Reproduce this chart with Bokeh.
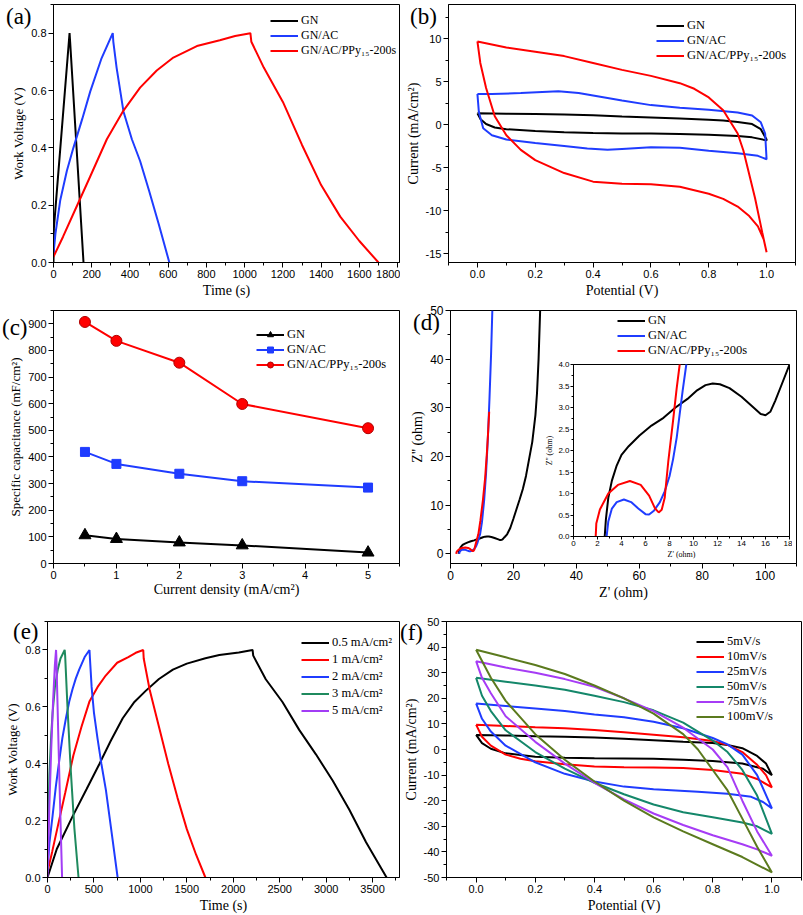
import numpy as np
from bokeh.plotting import figure
from bokeh.layouts import row, column
from bokeh.models import Legend, LegendItem, FixedTicker, Range1d, NumeralTickFormatter, Div
from bokeh.embed import file_html
from bokeh.resources import INLINE

SANS = "Liberation Sans"
SERIF = "Liberation Serif"

# ---------------- (a) GCD of three electrodes ----------------
a_gn_t = [0, 2, 84, 87, 157]
a_gn_v = [0, 0.12, 0.80, 0.77, 0]
a_ac_t = [0, 10, 35, 70, 104, 150, 192, 250, 310, 313, 330, 366, 410, 453, 500, 550, 606]
a_ac_v = [0.03, 0.10, 0.216, 0.32, 0.40, 0.50, 0.596, 0.71, 0.80, 0.77, 0.68, 0.527, 0.43, 0.354, 0.25, 0.135, 0]
a_ppy_t = [0, 50, 104, 192, 279, 366, 453, 540, 627, 750, 870, 950, 1030, 1035, 1100, 1200, 1300, 1400, 1500, 1600, 1700]
a_ppy_v = [0.02, 0.09, 0.17, 0.30, 0.43, 0.53, 0.61, 0.67, 0.715, 0.755, 0.775, 0.79, 0.80, 0.77, 0.68, 0.56, 0.41, 0.27, 0.16, 0.075, 0]

# ---------------- (b) CV of three electrodes ----------------
b_gn_x = [0, 0.1, 0.2, 0.3, 0.4, 0.5, 0.6, 0.7, 0.8, 0.85, 0.9, 0.95, 0.98, 1.0, 1.0, 0.95, 0.9, 0.8, 0.7, 0.6, 0.5, 0.4, 0.3, 0.2, 0.1, 0.06, 0.03, 0.01, 0]
b_gn_y = [1.35, 1.3, 1.28, 1.22, 1.12, 0.97, 0.86, 0.73, 0.6, 0.5, 0.35, 0.1, -0.5, -1.7, -1.8, -1.45, -1.3, -1.15, -1.05, -1.0, -1.0, -0.95, -0.85, -0.7, -0.5, -0.3, 0.1, 0.7, 1.35]
b_ac_x = [0, 0.05, 0.15, 0.28, 0.35, 0.42, 0.5, 0.6, 0.7, 0.8, 0.9, 0.95, 0.98, 0.995, 1.0,
          0.97, 0.9, 0.8, 0.7, 0.6, 0.5, 0.45, 0.38, 0.3, 0.2, 0.1, 0.05, 0.02, 0.005, 0]
b_ac_y = [3.6, 3.6, 3.7, 3.9, 3.7, 3.3, 2.85, 2.3, 2.0, 1.75, 1.45, 1.1, 0.3, -1.0, -4.0,
          -3.6, -3.3, -3.0, -2.65, -2.6, -2.8, -2.9, -2.75, -2.45, -2.1, -1.7, -1.2, -0.4, 1.5, 3.6]
b_ppy_x = [0, 0.1, 0.2, 0.3, 0.4, 0.5, 0.6, 0.7, 0.75, 0.8, 0.85, 0.9, 0.92, 0.96, 0.985, 1.0,
           0.99, 0.97, 0.94, 0.9, 0.85, 0.8, 0.7, 0.6, 0.5, 0.4, 0.3, 0.2, 0.15, 0.1, 0.06, 0.03, 0.01, 0]
b_ppy_y = [9.7, 9.0, 8.5, 8.0, 7.2, 6.4, 5.7, 4.85, 4.2, 3.2, 1.7, -1.0, -3.0, -8.5, -12.5, -14.8,
           -13.3, -11.8, -10.6, -9.5, -8.6, -8.0, -7.2, -6.9, -6.85, -6.6, -5.6, -4.1, -2.9, -1.2, 1.0, 4.3, 7.2, 9.7]

# ---------------- (c) specific capacitance ----------------
c_j = [0.5, 1, 2, 3, 5]
c_gn = [106, 92, 79, 68, 41]
c_ac = [419, 374, 337, 309, 285]
c_ppy = [907, 836, 754, 599, 508]

# ---------------- (d) Nyquist ----------------
d_gn_x = [2.6, 2.7, 2.9, 3.2, 3.6, 4.0, 4.6, 5.5, 6.5, 7.5, 8.5, 9.5, 10.3, 11.0, 11.6, 12.2, 13.0, 14.0, 15.0, 15.6,
          16.0, 16.4, 16.8, 17.3, 18.0, 19.0, 20.0, 21.0, 22.0, 23.0, 24.0, 25.0, 26.0, 27.0, 27.5, 28.0, 28.5]
d_gn_y = [0, 0.4, 0.9, 1.3, 1.65, 1.9, 2.1, 2.35, 2.58, 2.76, 3.0, 3.2, 3.4, 3.52, 3.56, 3.54, 3.45, 3.25, 3.0, 2.85,
          2.82, 2.9, 3.15, 3.5, 4.0, 5.3, 7.2, 9.2, 11.2, 13.3, 16.0, 19.5, 23.0, 28.5, 33.0, 40.0, 50.0]
d_ac_x = [2.76, 2.9, 3.2, 3.6, 4.2, 4.8, 5.4, 6.0, 6.3, 6.7, 7.2, 7.6, 8.0, 8.3, 8.6, 8.85, 9.1, 9.4,
          10.0, 10.7, 11.3, 11.9, 12.4, 12.9, 13.3]
d_ac_y = [0, 0.35, 0.65, 0.8, 0.86, 0.8, 0.65, 0.52, 0.51, 0.6, 0.8, 1.05, 1.4, 1.8, 2.3, 2.85, 3.4, 4.0,
          6.5, 11.0, 16.5, 24.0, 32.0, 41.0, 50.0]
d_ppy_x = [1.85, 1.9, 2.2, 2.9, 3.7, 4.7, 5.6, 6.3, 6.8, 7.1, 7.35, 7.6, 7.9, 8.3, 8.6, 8.85,
           9.5, 10.3, 11.0, 11.6, 12.0, 12.3]
d_ppy_y = [0, 0.3, 0.63, 1.0, 1.2, 1.29, 1.2, 0.95, 0.65, 0.56, 0.62, 0.9, 1.75, 2.7, 3.45, 4.0,
           6.8, 11.0, 15.5, 21.0, 25.5, 29.2]

# ---------------- (e) GCD at current densities ----------------
e_05_t = [0, 100, 270, 420, 560, 680, 810, 930, 1060, 1200, 1350, 1500, 1700, 1850, 2060, 2208, 2215,
          2350, 2530, 2710, 2890, 3070, 3250, 3430, 3651]
e_05_v = [0, 0.1, 0.215, 0.31, 0.40, 0.48, 0.56, 0.615, 0.657, 0.698, 0.731, 0.752, 0.771, 0.782, 0.791, 0.80, 0.78,
          0.697, 0.617, 0.519, 0.433, 0.341, 0.238, 0.124, 0]
e_1_t = [0, 50, 104, 192, 279, 366, 453, 540, 627, 750, 870, 950, 1031, 1036, 1100, 1200, 1300, 1400, 1500, 1600, 1700]
e_1_v = [0.02, 0.09, 0.17, 0.30, 0.43, 0.53, 0.62, 0.67, 0.71, 0.755, 0.775, 0.79, 0.80, 0.77, 0.66, 0.53, 0.40, 0.28, 0.17, 0.08, 0]
e_2_t = [0, 20, 54, 90, 126, 160, 198, 235, 269, 305, 341, 400, 452, 457, 475, 500, 538, 580, 629, 700, 755]
e_2_v = [0.02, 0.12, 0.215, 0.32, 0.41, 0.49, 0.559, 0.62, 0.662, 0.70, 0.731, 0.775, 0.80, 0.77, 0.67, 0.58, 0.49, 0.40, 0.307, 0.135, 0]
e_3_t = [0, 10, 20, 40, 55, 80, 110, 140, 185, 190, 215, 250, 290, 334]
e_3_v = [0.02, 0.2, 0.36, 0.5, 0.58, 0.67, 0.73, 0.77, 0.80, 0.78, 0.6, 0.38, 0.17, 0]
e_5_t = [0, 20, 40, 60, 80, 92, 95, 120, 140, 157]
e_5_v = [0, 0.25, 0.45, 0.62, 0.75, 0.80, 0.78, 0.45, 0.2, 0]

# ---------------- (f) CV at scan rates ----------------
f_5_x = [0, 0.1, 0.2, 0.3, 0.4, 0.5, 0.6, 0.7, 0.8, 0.85, 0.9, 0.95, 0.98, 1.0,
         0.97, 0.9, 0.8, 0.7, 0.6, 0.5, 0.4, 0.3, 0.2, 0.1, 0.05, 0.02, 0]
f_5_y = [5.7, 5.5, 5.2, 5.0, 4.7, 4.2, 3.6, 3.0, 2.5, 1.8, 0.5, -2.5, -5.5, -10,
         -7.5, -5.5, -4.5, -4.0, -3.6, -3.5, -3.4, -3.2, -2.8, -1.5, 0.3, 2.5, 5.7]
f_10_x = [0, 0.1, 0.2, 0.3, 0.4, 0.5, 0.6, 0.7, 0.8, 0.85, 0.9, 0.95, 0.98, 1.0,
          0.95, 0.9, 0.8, 0.7, 0.6, 0.5, 0.4, 0.3, 0.2, 0.15, 0.1, 0.05, 0.02, 0]
f_10_y = [9.7, 9.2, 8.7, 8.3, 7.6, 6.7, 5.8, 4.8, 3.3, 1.8, -1, -6, -10, -14.8,
          -11.5, -9.5, -8, -7.2, -7, -6.9, -6.6, -5.8, -4.6, -3.6, -2, 1.5, 5, 9.7]
f_25_x = [0, 0.1, 0.2, 0.3, 0.4, 0.5, 0.6, 0.7, 0.8, 0.85, 0.9, 0.95, 1.0,
          0.97, 0.93, 0.85, 0.75, 0.6, 0.5, 0.4, 0.3, 0.2, 0.1, 0.05, 0.02, 0]
f_25_y = [18, 17, 16, 15, 13.7, 12.6, 10.8, 8.3, 4.5, 2, -2, -10, -23,
          -20.5, -18.5, -17.3, -16.5, -15.5, -14.5, -12.5, -9.5, -5, 1.5, 7, 12, 18]
f_50_x = [0, 0.1, 0.2, 0.3, 0.4, 0.5, 0.6, 0.7, 0.8, 0.85, 0.9, 0.95, 1.0,
          0.95, 0.9, 0.8, 0.7, 0.6, 0.5, 0.4, 0.3, 0.2, 0.1, 0.05, 0.02, 0]
f_50_y = [28, 26.5, 25, 23.3, 21, 18.5, 15.3, 10.5, 3.5, -1, -8, -18, -33,
          -30, -28.5, -26.5, -24.5, -21.5, -17.5, -13, -7.5, -1, 7.5, 15, 21, 28]
f_75_x = [0, 0.1, 0.2, 0.3, 0.4, 0.5, 0.6, 0.7, 0.8, 0.85, 0.9, 0.95, 1.0,
          0.95, 0.9, 0.8, 0.7, 0.6, 0.5, 0.4, 0.3, 0.2, 0.1, 0.05, 0.02, 0]
f_75_y = [34.5, 32, 30, 27.5, 24.5, 20, 15, 8.5, 0, -7, -20, -32, -41.5,
          -39, -37, -33.5, -29.5, -25, -19.5, -13, -5.5, 3, 13, 22, 28, 34.5]
f_100_x = [0, 0.1, 0.2, 0.3, 0.4, 0.5, 0.6, 0.7, 0.75, 0.8, 0.85, 0.9, 0.95, 1.0,
           0.9, 0.8, 0.7, 0.6, 0.5, 0.4, 0.3, 0.2, 0.1, 0.05, 0]
f_100_y = [39, 36, 33, 29.5, 25, 20, 14, 6, 0, -8, -16, -27, -38, -48,
           -42, -37, -32, -26.5, -20, -12.5, -4, 6, 19, 28, 39]

RED = "#ff0000"
BLUE = "#1f3cff"
BLACK = "#000000"


def make_fig(w, h, xr, yr, mb):
    p = figure(width=w, height=h, x_range=Range1d(*xr), y_range=Range1d(*yr),
               output_backend="svg", toolbar_location=None,
               min_border_left=mb[0], min_border_right=mb[1],
               min_border_top=mb[2], min_border_bottom=mb[3])
    p.xgrid.visible = False
    p.ygrid.visible = False
    p.outline_line_color = "black"
    p.outline_line_width = 1
    p.outline_line_alpha = 1
    p.border_fill_color = "white"
    p.background_fill_color = "white"
    return p


def style_axis(ax, label, majors, minors, fmt, tick_size="11px", label_size="14px",
               tout=5, mout=3, lstand=2, astand=2):
    ax.axis_label = label
    ax.ticker = FixedTicker(ticks=list(majors), minor_ticks=list(minors))
    ax.formatter = NumeralTickFormatter(format=fmt)
    ax.major_tick_in = 0
    ax.major_tick_out = tout
    ax.minor_tick_in = 0
    ax.minor_tick_out = mout
    ax.axis_line_color = "black"
    ax.major_tick_line_color = "black"
    ax.minor_tick_line_color = "black"
    ax.major_label_text_font = SANS
    ax.major_label_text_font_size = tick_size
    ax.major_label_text_color = "black"
    ax.major_label_standoff = lstand
    ax.axis_label_text_font = SERIF
    ax.axis_label_text_font_size = label_size
    ax.axis_label_text_font_style = "normal"
    ax.axis_label_text_color = "black"
    ax.axis_label_standoff = astand


def add_legend(p, items, loc, item_h=15, spacing=0, font="12.5px"):
    leg = Legend(items=[LegendItem(label=l, renderers=r) for l, r in items], location=loc,
                 glyph_width=28, glyph_height=item_h, label_height=item_h, label_width=10,
                 spacing=spacing, padding=0, margin=0, label_standoff=3,
                 background_fill_alpha=0, border_line_alpha=0,
                 label_text_font=SERIF, label_text_font_size=font, label_text_color="black")
    p.add_layout(leg)


def tag(text, left, top):
    return Div(text=text, width=36, height=28,
               styles={"position": "absolute", "left": f"{left}px", "top": f"{top}px",
                       "font-family": SERIF, "font-size": "23px", "line-height": "23px",
                       "color": "black", "z-index": "6", "margin": "0", "padding": "0"})


LW = 2

# ---- (a)
pa = make_fig(400, 300, (0, 1810), (0, 0.9), (53, 1, 2, 37))
style_axis(pa.xaxis[0], "Time (s)", range(0, 1801, 200), range(0, 1801, 100), "0")
style_axis(pa.yaxis[0], "Work Voltage (V)", [0, 0.2, 0.4, 0.6, 0.8], np.arange(0, 0.91, 0.1), "0.0", label_size="13px")
ra1 = pa.line(a_gn_t, a_gn_v, line_color=BLACK, line_width=LW)
ra2 = pa.line(a_ac_t, a_ac_v, line_color=BLUE, line_width=LW)
ra3 = pa.line(a_ppy_t, a_ppy_v, line_color=RED, line_width=LW)
add_legend(pa, [("GN", [ra1]), ("GN/AC", [ra2]), ("GN/AC/PPy₁₅-200s", [ra3])], (217, 204), font="12px")

# ---- (b)
pb = make_fig(403, 300, (-0.1, 1.1), (-16, 14), (48, 8, 4, 37))
style_axis(pb.xaxis[0], "Potential (V)", [0, 0.2, 0.4, 0.6, 0.8, 1.0], np.arange(-0.1, 1.11, 0.1), "0.0")
style_axis(pb.yaxis[0], "Current (mA/cm²)", [-15, -10, -5, 0, 5, 10], np.arange(-15, 14, 2.5), "0")
rb1 = pb.line(b_gn_x, b_gn_y, line_color=BLACK, line_width=LW)
rb2 = pb.line(b_ac_x, b_ac_y, line_color=BLUE, line_width=LW)
rb3 = pb.line(b_ppy_x, b_ppy_y, line_color=RED, line_width=LW)
add_legend(pb, [("GN", [rb1]), ("GN/AC", [rb2]), ("GN/AC/PPy₁₅-200s", [rb3])], (208, 199))

# ---- (c)
pc = make_fig(400, 305, (0, 5.5), (0, 950), (53, 1, 10, 37))
style_axis(pc.xaxis[0], "Current density (mA/cm²)", [0, 1, 2, 3, 4, 5], np.arange(0, 5.51, 0.5), "0", astand=0)
style_axis(pc.yaxis[0], "Specific capacitance (mF/cm²)", range(0, 901, 100), range(0, 951, 50), "0", label_size="13px")
lc1 = pc.line(c_j, c_gn, line_color=BLACK, line_width=LW)
sc1 = pc.scatter(c_j, c_gn, marker="triangle", size=12, fill_color=BLACK, line_color=BLACK)
lc2 = pc.line(c_j, c_ac, line_color=BLUE, line_width=LW)
sc2 = pc.scatter(c_j, c_ac, marker="square", size=9, fill_color=BLUE, line_color=BLUE)
lc3 = pc.line(c_j, c_ppy, line_color=RED, line_width=LW)
sc3 = pc.scatter(c_j, c_ppy, marker="circle", size=11, fill_color=RED, line_color="#b00000")
add_legend(pc, [("GN", [lc1, sc1]), ("GN/AC", [lc2, sc2]), ("GN/AC/PPy₁₅-200s", [lc3, sc3])], (203, 191))

# ---- (d)
pd_ = make_fig(403, 305, (0, 110), (-2, 50), (50, 7, 5, 42))
style_axis(pd_.xaxis[0], "Z' (ohm)", range(0, 101, 20), range(0, 111, 10), "0", tick_size="12px")
style_axis(pd_.yaxis[0], "Z'' (ohm)", range(0, 51, 10), range(0, 51, 5), "0", tick_size="12px")
rd1 = pd_.line(d_gn_x, d_gn_y, line_color=BLACK, line_width=LW)
rd2 = pd_.line(d_ac_x, d_ac_y, line_color=BLUE, line_width=LW)
rd3 = pd_.line(d_ppy_x, d_ppy_y, line_color=RED, line_width=LW)
add_legend(pd_, [("GN", [rd1]), ("GN/AC", [rd2]), ("GN/AC/PPy₁₅-200s", [rd3])], (167, 205))

# inset of (d)
pin = make_fig(250, 201, (0, 18), (0, 4), (30, 3, 4, 22))
style_axis(pin.xaxis[0], "Z' (ohm)", range(0, 19, 2), range(0, 19, 1), "0", tick_size="8px", label_size="8px",
           tout=3, mout=2, lstand=1, astand=1)
style_axis(pin.yaxis[0], "Z'' (ohm)", np.arange(0, 4.01, 0.5), np.arange(0, 4.01, 0.25), "0.0", tick_size="8px",
           label_size="8px", tout=3, mout=2, lstand=1, astand=1)
pin.line(d_gn_x, d_gn_y, line_color=BLACK, line_width=LW)
pin.line(d_ac_x, d_ac_y, line_color=BLUE, line_width=LW)
pin.line(d_ppy_x, d_ppy_y, line_color=RED, line_width=LW)
pin.border_fill_alpha = 0
pin.styles = {"position": "absolute", "left": "542px", "top": "360px", "z-index": "5"}

# ---- (e)
GREEN = "#1f8a5e"
PURPLE = "#a23cf5"
pe = make_fig(400, 310, (0, 3790), (0, 0.9), (47, 1, 13, 36))
style_axis(pe.xaxis[0], "Time (s)", range(0, 3501, 500), range(0, 3791, 250), "0")
style_axis(pe.yaxis[0], "Work Voltage (V)", [0, 0.2, 0.4, 0.6, 0.8], np.arange(0, 0.91, 0.1), "0.0", label_size="13px")
re1 = pe.line(e_05_t, e_05_v, line_color=BLACK, line_width=LW)
re2 = pe.line(e_1_t, e_1_v, line_color=RED, line_width=LW)
re3 = pe.line(e_2_t, e_2_v, line_color=BLUE, line_width=LW)
re4 = pe.line(e_3_t, e_3_v, line_color=GREEN, line_width=LW)
re5 = pe.line(e_5_t, e_5_v, line_color=PURPLE, line_width=LW)
add_legend(pe, [("0.5 mA/cm²", [re1]), ("1 mA/cm²", [re2]), ("2 mA/cm²", [re3]),
                ("3 mA/cm²", [re4]), ("5 mA/cm²", [re5])], (254, 159), item_h=15, spacing=2)

# ---- (f)
TEAL = "#14876a"
VIOLET = "#a63cf5"
OLIVE = "#5b7a1e"
pf = make_fig(403, 310, (-0.1, 1.1), (-50, 50), (46, 2, 16, 32))
style_axis(pf.xaxis[0], "Potential (V)", [0, 0.2, 0.4, 0.6, 0.8, 1.0], np.arange(-0.1, 1.11, 0.1), "0.0")
style_axis(pf.yaxis[0], "Current (mA/cm²)", range(-50, 51, 10), range(-50, 51, 5), "0")
rf1 = pf.line(f_5_x, f_5_y, line_color=BLACK, line_width=LW)
rf2 = pf.line(f_10_x, f_10_y, line_color=RED, line_width=LW)
rf3 = pf.line(f_25_x, f_25_y, line_color=BLUE, line_width=LW)
rf4 = pf.line(f_50_x, f_50_y, line_color=TEAL, line_width=LW)
rf5 = pf.line(f_75_x, f_75_y, line_color=VIOLET, line_width=LW)
rf6 = pf.line(f_100_x, f_100_y, line_color=OLIVE, line_width=LW)
add_legend(pf, [("5mV/s", [rf1]), ("10mV/s", [rf2]), ("25mV/s", [rf3]), ("50mV/s", [rf4]),
                ("75mV/s", [rf5]), ("100mV/s", [rf6])], (250, 153), item_h=15, spacing=0)

tags = [tag("(a)", 6, 5), tag("(b)", 410, 5), tag("(c)", 2, 316), tag("(d)", 413, 311),
        tag("(e)", 13, 620), tag("(f)", 400, 621)]

layout = column(row(pa, pb), row(pc, pd_), row(pe, pf), pin, *tags)
layout.styles = {"position": "relative"}

open("out.html", "w").write(file_html(layout, INLINE))
